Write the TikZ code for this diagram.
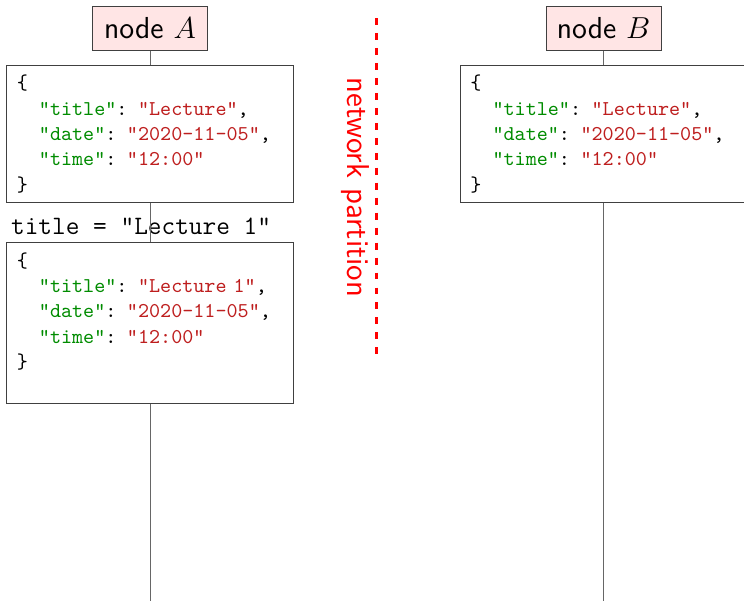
\documentclass[tikz,border=0pt]{standalone}
\usepackage{xcolor}
\definecolor{keygreen}{RGB}{0,140,0}
\definecolor{valred}{RGB}{190,30,30}
\newcommand{\jkey}[1]{\textcolor{keygreen}{"#1"}}
\newcommand{\jval}[1]{\textcolor{valred}{"#1"}}
\newcommand{\jind}{\phantom{xx}}
\begin{document}
\begin{tikzpicture}[
  font=\normalsize,
  peer/.style={draw=black!75, fill=red!10, minimum width=1.92cm, minimum height=0.72cm, font=\sffamily\Large},
  doc/.style={draw=black!75, fill=white, anchor=north, align=left, inner sep=4.7pt, text width=4.44cm, font=\ttfamily},
  lifeline/.style={black!60},
  partition/.style={red, line width=1.4pt, dash pattern=on 3.3pt off 3.8pt}
]

% Page frame: 1cm = 60px of the 744x601 layout
\useasboundingbox (0,0) rectangle (12.4,-10.017);

% Column positions of the two nodes
\def\colA{2.5}
\def\colB{10.06}

% Node headers
\node[peer] (peerA) at (\colA,-0.475) {node $A$};
\node[peer] (peerB) at (\colB,-0.475) {node $B$};

% Documents held by node A
\node[doc] (docA1) at (\colA,-1.083) {\{\\
\jind\jkey{title}: \jval{Lecture},\\
\jind\jkey{date}: \jval{2020-11-05},\\
\jind\jkey{time}: \jval{12:00}\\
\}};
\node[doc] (docA2) at (\colA,-4.04) {\{\\
\jind\jkey{title}: \jval{Lecture 1},\\
\jind\jkey{date}: \jval{2020-11-05},\\
\jind\jkey{time}: \jval{12:00}\\
\}\\
\mbox{}};
\node[anchor=south west, inner xsep=2pt, font=\ttfamily\fontsize{12.6}{15}\selectfont] (update) at (docA2.north west) {title = "Lecture 1"};

% Document held by node B
\node[doc] (docB) at (\colB,-1.083) {\{\\
\jind\jkey{title}: \jval{Lecture},\\
\jind\jkey{date}: \jval{2020-11-05},\\
\jind\jkey{time}: \jval{12:00}\\
\}};

% Lifelines
\coordinate (endA) at (\colA,-10.017);
\coordinate (endB) at (\colB,-10.017);
\draw[lifeline] (peerA) -- (docA1);
\draw[lifeline] (docA1) -- (docA2);
\draw[lifeline] (docA2) -- (endA);
\draw[lifeline] (peerB) -- (docB);
\draw[lifeline] (docB) -- (endB);

% Network partition
\coordinate (cutTop) at (6.28,-0.3);
\coordinate (cutBot) at (6.28,-6.0);
\draw[partition] (cutTop) -- (cutBot);
\node[rotate=-90, red, font=\sffamily\fontsize{15}{18}\selectfont] (cutLabel) at (5.92,-3.125) {network partition};

\end{tikzpicture}
\end{document}
